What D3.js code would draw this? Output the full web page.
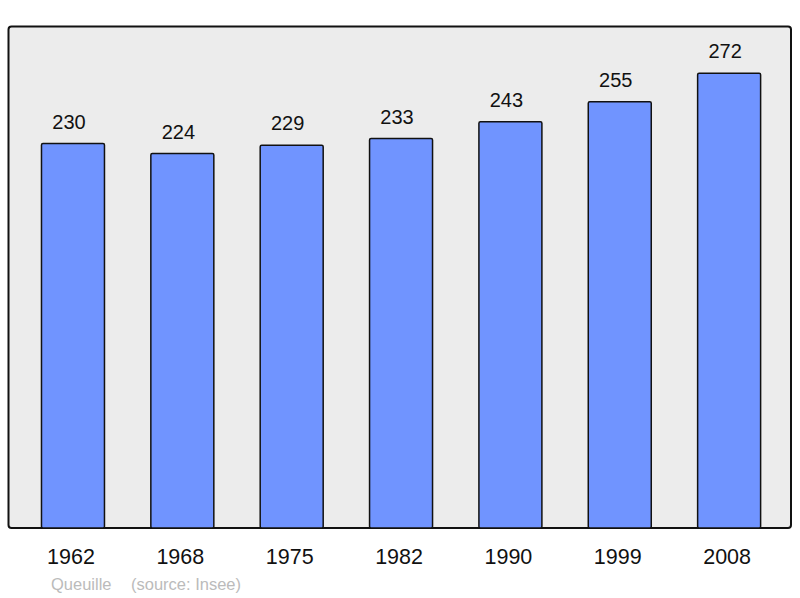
<!DOCTYPE html>
<html>
<head>
<meta charset="utf-8">
<script src="https://cdn.jsdelivr.net/npm/d3@7"></script>
<style>
  body { margin: 0; background: #fff; }
  text { font-family: "Liberation Sans", Arial, sans-serif; }
</style>
</head>
<body>
<svg width="800" height="598"></svg>
<script>
const years = ["1962", "1968", "1975", "1982", "1990", "1999", "2008"]
const population = [230, 224, 229, 233, 243, 255, 272]
const yDomain = [0, 300]
const footer = ["Queuille", "(source: Insee)"]

const svg = d3.select("svg")
const frame = { left: 8.5, top: 26.5, right: 791, bottom: 528 }

// background frame
svg.append("rect")
	.attr("x", frame.left).attr("y", frame.top)
	.attr("width", frame.right - frame.left).attr("height", frame.bottom - frame.top)
	.attr("rx", 3)
	.style("fill", "#ececec").style("stroke", "#111").style("stroke-width", 2)

const xScale = d3.scaleBand().domain(years).range([18.3, 783.8]).paddingInner(0.424).paddingOuter(0.212)
const yScale = d3.scaleLinear().domain(yDomain).range([frame.bottom, frame.top])

const data = years.map((y, i) => ({ year: y, value: population[i] }))

svg.selectAll("rect.bar")
	.data(data)
	.enter().append("rect")
	.attr("class", "bar")
	.attr("x", d => xScale(d.year))
	.attr("y", d => yScale(d.value))
	.attr("width", xScale.bandwidth())
	.attr("height", d => frame.bottom - yScale(d.value))
	.attr("rx", 1.5)
	.style("fill", "#7094ff").style("stroke", "#111").style("stroke-width", 1.5)

// value labels (sit a little left of the bar centre, like the original)
svg.selectAll("text.val")
	.data(data)
	.enter().append("text")
	.attr("class", "val")
	.attr("x", d => xScale(d.year) + xScale.bandwidth() / 2 - 4)
	.attr("y", d => yScale(d.value) - 15)
	.attr("text-anchor", "middle")
	.style("font-size", "20px").style("fill", "#111")
	.text(d => d.value)

// x axis labels
const xAxis = d3.axisBottom(xScale).tickSize(0).tickPadding(0)
const xg = svg.append("g").attr("transform", `translate(-2,${frame.bottom})`).call(xAxis)
xg.select(".domain").remove()
xg.selectAll("text")
	.attr("dy", null).attr("y", 36)
	.style("font-size", "21.5px").style("fill", "#111")
	.style("font-family", "'Liberation Sans', Arial, sans-serif")

// footer
svg.append("text").attr("x", 51).attr("y", 590)
	.style("font-size", "16.5px").style("fill", "#bbb").text(footer[0])
svg.append("text").attr("x", 131).attr("y", 590)
	.style("font-size", "16.5px").style("fill", "#bbb").text(footer[1])
</script>
</body>
</html>
